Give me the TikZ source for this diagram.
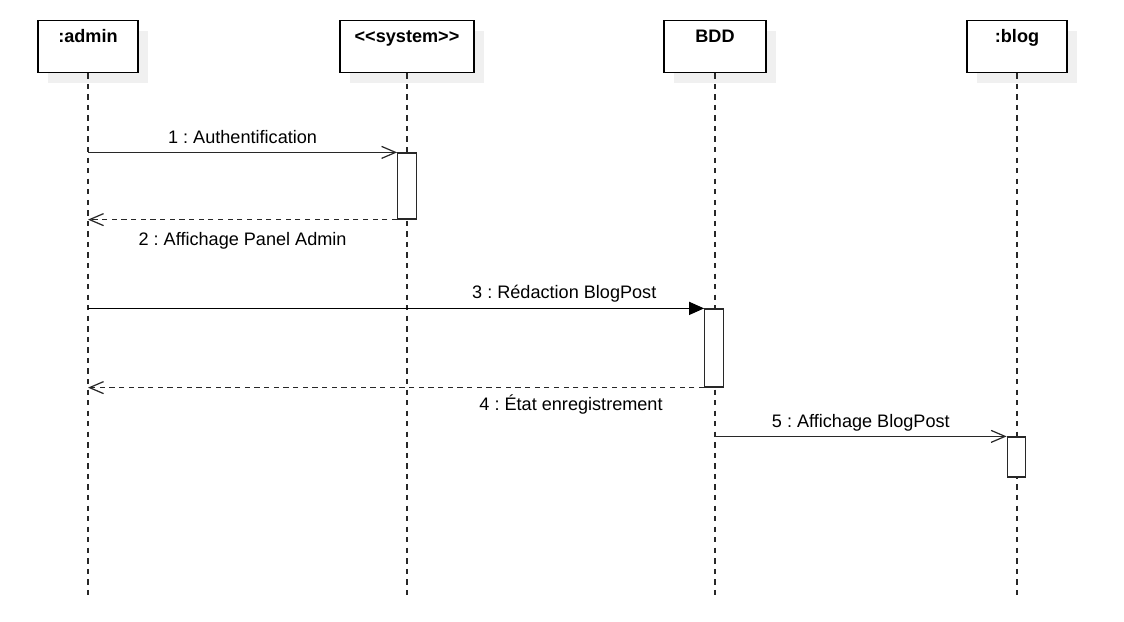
\documentclass[tikz,border=0pt]{standalone}
\usepackage{fontspec}
\setmainfont{Liberation Sans}
\frenchspacing
\usetikzlibrary{arrows.meta, positioning, shadows, calc}
\definecolor{linecolor}{RGB}{40, 40, 40}
\definecolor{shadecolor}{RGB}{240, 240, 240}
\tikzset{
	headbox/.style={
		rectangle, draw=black, line width=0.7pt, fill=white,
		minimum height=1.04cm, inner ysep=0pt,
		text height=0.44cm, text depth=0.60cm,
		font=\fontsize{10.3}{12}\selectfont\bfseries,
		drop shadow={shadow xshift=0.2cm, shadow yshift=-0.2cm,
			fill=shadecolor, opacity=1}
	},
	actbox/.style={
		rectangle, draw=linecolor, line width=0.7pt, fill=white,
		minimum width=0.37cm, inner sep=0pt
	},
	lifeline/.style={
		draw=linecolor, line width=0.6pt, dash pattern=on 3pt off 3pt
	},
	msgarrow/.style={
		-{Straight Barb[length=2.8mm, width=2.4mm]}, line width=0.7pt, color=linecolor
	},
	syncarrow/.style={
		-{Triangle[length=3mm, width=2.6mm]}, line width=0.7pt, color=black
	},
	retarrow/.style={
		-{Straight Barb[length=2.8mm, width=2.4mm]}, line width=0.7pt,
		color=linecolor, dash pattern=on 3pt off 2.5pt
	},
	msglabel/.style={
		font=\fontsize{10.3}{12}\selectfont, text=black, inner sep=0pt, anchor=base
	}
}

\begin{document}
\begin{tikzpicture}

	\useasboundingbox (0,0) rectangle (22.48,-12.44);

	%% ───────────────────────────
	%%  heads of the lifelines
	%% ───────────────────────────
	\node[headbox, minimum width=2.0cm, anchor=north] (admin) at (1.76,-0.40) {:admin};
	\node[headbox, minimum width=2.68cm, anchor=north] (system) at (8.14,-0.40) {<{}<system>{}>};
	\node[headbox, minimum width=2.04cm, anchor=north] (bdd) at (14.30,-0.40) {BDD};
	\node[headbox, minimum width=2.0cm, anchor=north] (blog) at (20.34,-0.40) {:blog};

	%% ends of the lifelines
	\coordinate (adminend) at (1.76,-12.0);
	\coordinate (systemend) at (8.14,-12.0);
	\coordinate (bddend) at (14.30,-12.0);
	\coordinate (blogend) at (20.34,-12.0);

	\draw[lifeline] (admin.south) -- (adminend);
	\draw[lifeline] (system.south) -- (systemend);
	\draw[lifeline] (bdd.south) -- (bddend);
	\draw[lifeline] (blog.south) -- (blogend);

	%% ───────────────────────────
	%%  activation boxes
	%% ───────────────────────────
	\node[actbox, minimum height=1.32cm] (systemact) at (8.14,-3.72) {};
	\node[actbox, minimum height=1.56cm] (bddact) at (14.28,-6.96) {};
	\node[actbox, minimum height=0.80cm] (blogact) at (20.33,-9.14) {};

	%% ───────────────────────────
	%%  messages
	%% ───────────────────────────
	% admin -> system
	\draw[msgarrow] (admin |- systemact.north west) -- (systemact.north west)
		node[msglabel, midway, yshift=0.17cm] {1 : Authentification};
	% system -> admin (retour)
	\draw[retarrow] (systemact.south west) -- (admin |- systemact.south west)
		node[msglabel, midway, yshift=-0.52cm] {2 : Affichage Panel Admin};

	% admin -> BDD
	\draw[syncarrow] (admin |- bddact.north west) -- (bddact.north west)
		node[msglabel, pos=0.773, yshift=0.20cm] {3 : Rédaction BlogPost};
	% BDD -> admin (retour)
	\draw[retarrow] (bddact.south west) -- (admin |- bddact.south west)
		node[msglabel, pos=0.216, yshift=-0.46cm] {4 : État enregistrement};

	% BDD -> blog
	\draw[msgarrow] (bdd |- blogact.north west) -- (blogact.north west)
		node[msglabel, midway, yshift=0.17cm] {5 : Affichage BlogPost};

\end{tikzpicture}
\end{document}
